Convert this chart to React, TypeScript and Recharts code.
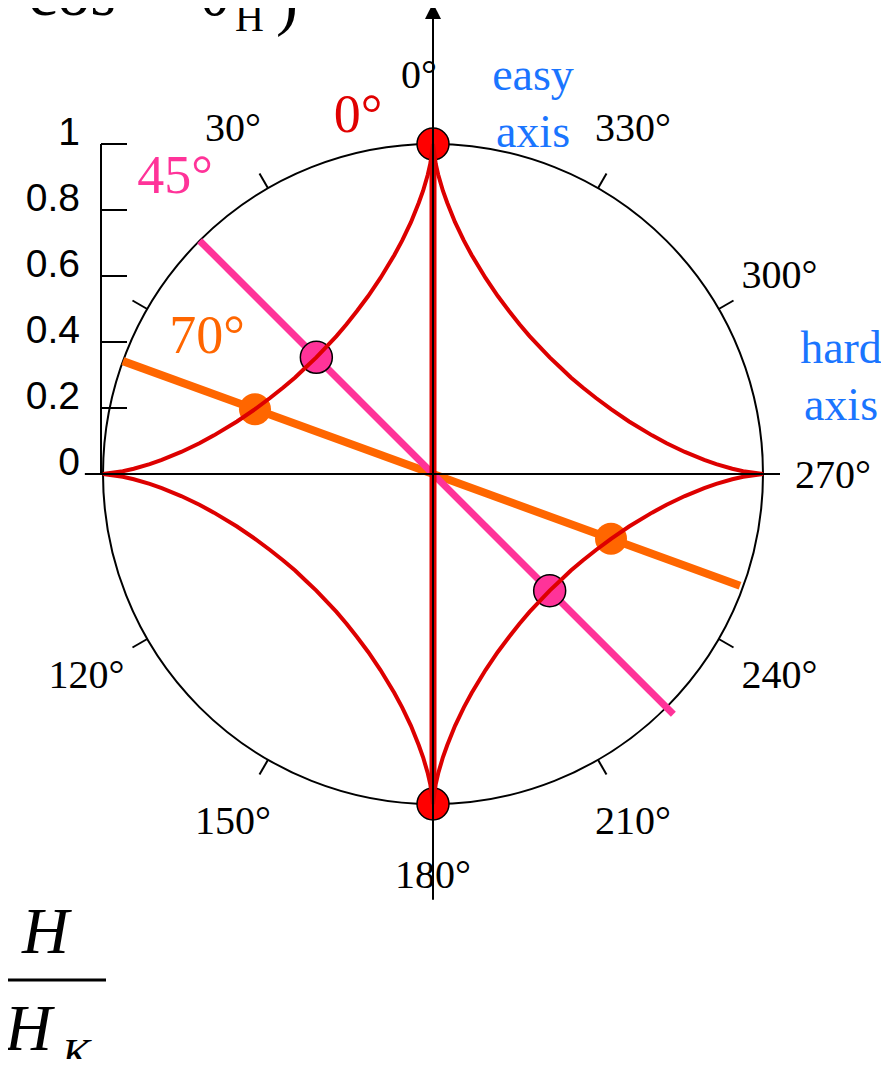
import { ScatterChart, Scatter, XAxis, YAxis, ReferenceLine, ReferenceDot, Customized } from 'recharts';

// Stoner–Wohlfarth switching field, one quadrant:
// field angle from the easy axis (deg) and h = H / H_K
const astroidAngles = [0, 0.5, 1, 2, 3, 5, 7.5, 10, 15, 20, 25, 30, 35, 40, 45, 50, 55, 60, 65, 70, 75, 80, 82.5, 85, 87, 88, 89, 89.5, 90];
const astroidField = [1.0, 0.94, 0.907, 0.859, 0.823, 0.766, 0.714, 0.674, 0.615, 0.574, 0.545, 0.524, 0.51, 0.503, 0.5, 0.503, 0.51, 0.524, 0.545, 0.574, 0.615, 0.674, 0.714, 0.766, 0.823, 0.859, 0.907, 0.94, 1.0];

// applied field directions, drawn back to front
const fieldAngles = [70, 45, 0];
const lineReachUp = [1.0, 1.0, 1.0];
const lineReachDown = [0.99, 1.03, 1.0];
const switchField = [0.574, 0.5, 1.0];

const angleTicks = [0, 30, 60, 90, 120, 150, 180, 210, 240, 270, 300, 330];
const angleLabels = ['0°', '30°', '', '', '120°', '150°', '180°', '210°', '240°', '270°', '300°', '330°'];
const scaleTicks = [0, 0.2, 0.4, 0.6, 0.8, 1];

// extents of the drawn h axes
const hardAxis = [{ x: -1.055, y: 0 }, { x: 1.05, y: 0 }];
const easyAxis = [{ x: 0, y: -1.29 }, { x: 0, y: 1.4 }];

const FIELD_STYLE: Record<number, { color: string; width: number; dotStroke: string }> = {
  70: { color: '#ff6600', width: 8, dotStroke: 'none' },
  45: { color: '#ff3399', width: 7, dotStroke: '#000' },
  0: { color: '#e00000', width: 7, dotStroke: '#000' },
};

const W = 889;
const H = 1067;
const CX = 433;
const CY = 474;
const UNIT = 330;
const AXIS_X = 101;

const xDomain = [(AXIS_X - CX) / UNIT, (W - CX) / UNIT];
const yDomain = [(CY - H) / UNIT, CY / UNIT];

const serif = '"Liberation Serif", "Times New Roman", serif';
const sans = '"Liberation Sans", Arial, sans-serif';
const blue = '#1a75ff';

// angle measured counter-clockwise from the easy axis (up)
const toXY = (deg: number, r: number) => {
  const t = (deg * Math.PI) / 180;
  return { x: -r * Math.sin(t), y: r * Math.cos(t) };
};

const astroid = [0, 90, 180, 270].flatMap((turn, q) =>
  astroidAngles.map((a, i) => toXY(a + turn, astroidField[i])).slice(q === 0 ? 0 : 1)
);

const fieldLines = fieldAngles.map((a, i) => [toXY(a, lineReachUp[i]), toXY(a + 180, lineReachDown[i])]);
const switchDots = fieldAngles.map((a, i) => [toXY(a, switchField[i]), toXY(a + 180, switchField[i])]);
const angleMarks = angleTicks.map((a, i) => ({ ...toXY(a, 1), angle: a, label: angleLabels[i] }));

const NoPoint = () => <g />;

const ScaleTick = (props: any) => {
  const { x, y, payload } = props;
  return (
    <g>
      <line x1={x} x2={x + 26} y1={y} y2={y} stroke="#000" strokeWidth={2} />
      <text x={x - 21} y={y + 1} textAnchor="end" style={{ fontFamily: sans }} fontSize={39} fill="#000">
        {payload.value}
      </text>
    </g>
  );
};

// tick on the unit circle plus its degree label, pointing outward
const AngleMark = ({ cx, cy, mark }: { cx: number; cy: number; mark: (typeof angleMarks)[number] }) => {
  const t = (mark.angle * Math.PI) / 180;
  const dx = -Math.sin(t);
  const dy = -Math.cos(t);
  const nudge = mark.angle === 0 ? -14 : 0;
  return (
    <g>
      <line x1={cx} y1={cy} x2={cx + 17 * dx} y2={cy + 17 * dy} stroke="#000" strokeWidth={2} />
      {mark.label && (
        <text
          x={cx + 70 * dx + nudge}
          y={cy + 70 * dy}
          textAnchor="middle"
          dominantBaseline="central"
          style={{ fontFamily: serif }}
          fontSize={40}
          fill="#000"
        >
          {mark.label}
        </text>
      )}
    </g>
  );
};

const makeDot = (angle: number) => (props: any) => {
  const s = FIELD_STYLE[angle];
  return <circle cx={props.cx} cy={props.cy} r={16} fill={angle === 0 ? '#ff0000' : s.color} stroke={s.dotStroke} strokeWidth={1.5} />;
};

const ArrowHead = (props: any) => {
  const { cx, cy } = props;
  return <path d={`M${cx},${cy} L${cx - 8},${cy + 16} L${cx + 8},${cy + 16} Z`} fill="#000" />;
};

const Annotations = () => (
  <g style={{ fontFamily: serif }}>
    {/* tail of the switching-field formula */}
    <text x={1} y={15} fontSize={66} textAnchor="middle">+</text>
    <text x={28} y={15} fontSize={66}>cos</text>
    <text x={199} y={15} fontSize={66}>θ</text>
    <text x={235} y={31} fontSize={40}>H</text>
    <text x={276} y={23} fontSize={66}>)</text>

    {fieldAngles.map((a, i) => {
      const pos = [
        { x: 207, y: 353 },
        { x: 175, y: 193 },
        { x: 358, y: 132 },
      ][i];
      return (
        <text key={a} x={pos.x} y={pos.y} fontSize={54} textAnchor="middle" fill={FIELD_STYLE[a].color}>
          {`${a}°`}
        </text>
      );
    })}

    <text x={533} y={90} fontSize={46} textAnchor="middle" fill={blue}>easy</text>
    <text x={533} y={147} fontSize={46} textAnchor="middle" fill={blue}>axis</text>
    <text x={841} y={363} fontSize={46} textAnchor="middle" fill={blue}>hard</text>
    <text x={841} y={420} fontSize={46} textAnchor="middle" fill={blue}>axis</text>

    {/* H / H_K */}
    <text x={22} y={953} fontSize={65} fontStyle="italic">H</text>
    <line x1={0} x2={106} y1={980} y2={980} stroke="#000" strokeWidth={3} />
    <text x={5} y={1050} fontSize={65} fontStyle="italic">H</text>
    <text x={62} y={1068} fontSize={42} fontStyle="italic">K</text>
  </g>
);

export default function App() {
  return (
    <div style={{ margin: '-8px', width: W, height: H, background: '#fff' }}>
      <ScatterChart width={W} height={H} margin={{ top: 0, right: 0, bottom: 0, left: 0 }}>
        <XAxis type="number" dataKey="x" domain={xDomain} hide allowDataOverflow />
        <YAxis
          type="number"
          dataKey="y"
          domain={yDomain}
          ticks={scaleTicks}
          interval={0}
          width={AXIS_X}
          axisLine={false}
          tickLine={false}
          tickSize={0}
          tickMargin={0}
          tick={<ScaleTick />}
        />

        <ReferenceDot x={0} y={0} r={UNIT} fill="none" stroke="#000" strokeWidth={2} ifOverflow="visible" />
        <ReferenceDot x={0} y={1.427} shape={ArrowHead} ifOverflow="visible" />
        <ReferenceLine
          segment={[{ x: xDomain[0], y: 0 }, { x: xDomain[0], y: 1 }]}
          stroke="#000"
          strokeWidth={2}
          ifOverflow="visible"
        />
        <ReferenceLine segment={hardAxis} stroke="#000" strokeWidth={2} ifOverflow="visible" />
        {angleMarks.map((m) => (
          <ReferenceDot
            key={`angle-${m.angle}`}
            x={m.x}
            y={m.y}
            ifOverflow="visible"
            shape={(p: any) => <AngleMark cx={p.cx} cy={p.cy} mark={m} />}
          />
        ))}

        {fieldLines.map((pts, i) => (
          <Scatter
            key={`line-${fieldAngles[i]}`}
            data={pts}
            line={{ stroke: FIELD_STYLE[fieldAngles[i]].color, strokeWidth: FIELD_STYLE[fieldAngles[i]].width }}
            shape={NoPoint}
            isAnimationActive={false}
          />
        ))}

        {switchDots.map((pts, i) => (
          <Scatter key={`dot-${fieldAngles[i]}`} data={pts} shape={makeDot(fieldAngles[i])} isAnimationActive={false} />
        ))}

        <Scatter data={astroid} line={{ stroke: '#dd0000', strokeWidth: 4 }} shape={NoPoint} isAnimationActive={false} />

        <Scatter data={hardAxis} line={{ stroke: '#000', strokeWidth: 2 }} shape={NoPoint} isAnimationActive={false} />
        <Scatter data={easyAxis} line={{ stroke: '#000', strokeWidth: 2 }} shape={NoPoint} isAnimationActive={false} />

        <Customized component={Annotations} />
      </ScatterChart>
    </div>
  );
}
